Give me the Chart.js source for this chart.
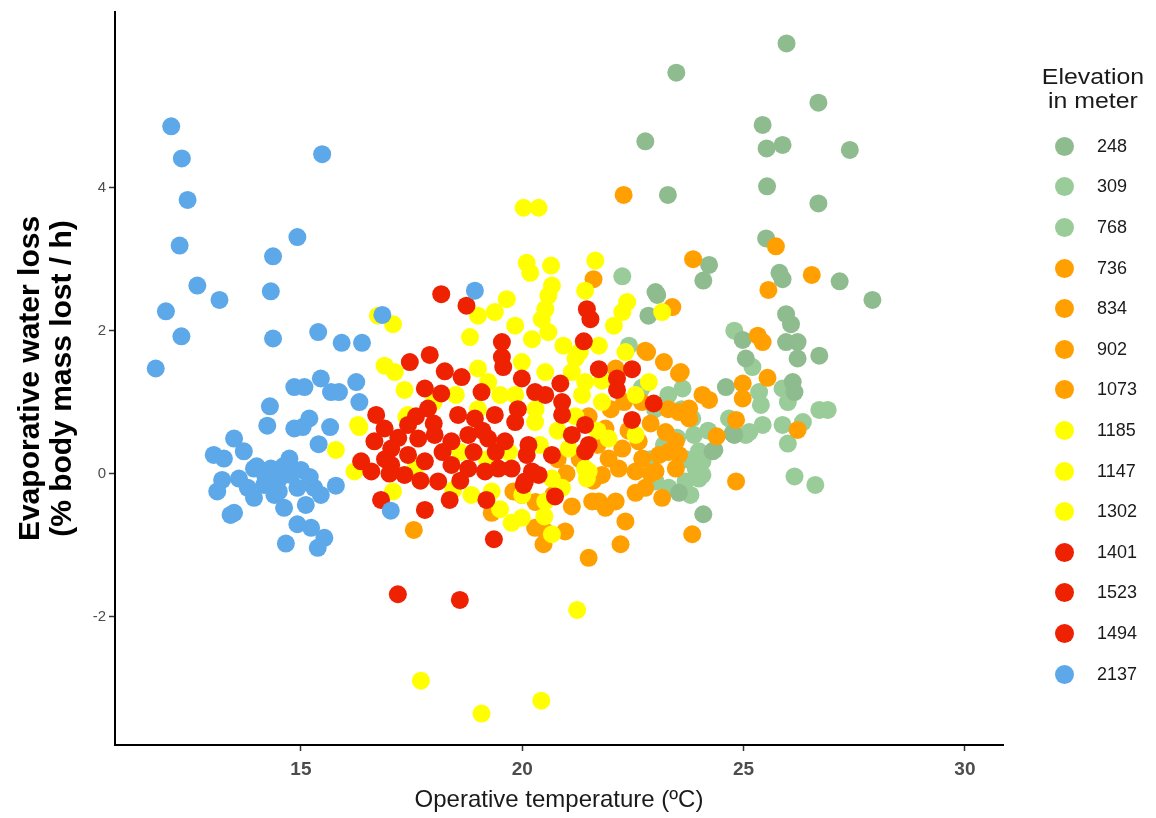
<!DOCTYPE html>
<html>
<head>
<meta charset="utf-8">
<script src="https://cdn.jsdelivr.net/npm/chart.js@4"></script>
<style>
  body { margin: 0; background: #fff; font-family: "Liberation Sans", Arial, sans-serif; }
  #wrap { position: relative; width: 1156px; height: 818px; }
  #legend { position: absolute; left: 1030px; top: 65px; width: 126px; color: #1a1a1a; }
  .ltitle { font-size: 22px; line-height: 24px; text-align: center; transform: scaleX(1.13); }
  #items { margin-top: 13px; }
  .item { display: flex; align-items: center; height: 40.6px; }
  .dot { width: 19px; height: 19px; border-radius: 50%; margin-left: 25px; }
  .lab { margin-left: 23px; font-size: 18px; }
</style>
</head>
<body>
<div id="wrap">
  <canvas id="chart" width="1156" height="818"></canvas>
  <div id="legend">
    <div class="ltitle">Elevation<br>in meter</div>
    <div id="items"></div>
  </div>
</div>
<script>
// --- Data: [temperature, water loss] per elevation group ---
const elevations = ['248', '309', '768', '736', '834', '902', '1073', '1185', '1147', '1302', '1401', '1523', '1494', '2137'];
const colors = ['#8fbc8f', '#99cc99', '#99cc99', '#ffa000', '#ffa000', '#ffa000', '#ffa000',
                '#ffff00', '#ffff00', '#ffff00', '#ee2200', '#ee2200', '#ee2200', '#5ca8e8'];
const xTicks = [15, 20, 25, 30];
const yTicks = [-2, 0, 2, 4];

const e248 = [[25.97,6.02],[23.48,5.61],[26.69,5.19],[25.43,4.88],[25.52,4.55],[25.88,4.60],[27.40,4.53],[22.78,4.65],
  [23.29,3.90],[25.53,4.02],[26.69,3.78],[25.51,3.29],[24.22,2.92],[24.09,2.70],[25.81,2.81],[25.88,2.72],[27.17,2.69],
  [27.91,2.43],[23.05,2.50],[22.85,2.21],[25.96,2.23],[26.07,2.09],[25.96,1.84],[26.22,1.84],[26.22,1.61],[26.71,1.65],
  [25.05,1.61],[24.98,1.87],[24.60,1.21],[26.11,1.28],[26.15,1.14],[24.75,0.56],[24.34,0.33],[23.54,-0.27],[24.09,-0.57],
  [24.79,0.54],[24.30,0.31],[23.01,2.54]];
const e309 = [[22.26,2.76],[24.79,2.00],[25.20,1.49],[23.62,1.19],[25.35,1.14],[25.39,0.96],[25.88,1.19],[26.00,1.00],
  [26.71,0.89],[26.90,0.89],[25.43,0.68],[25.05,0.54],[25.88,0.68],[26.34,0.72],[26.00,0.42],[26.15,-0.04],[26.62,-0.16],
  [24.67,0.77],[25.13,0.58]];
const e768 = [[23.88,0.54],[23.99,0.31],[23.92,0.07],[23.99,-0.07],[23.69,-0.11],[23.84,0.77],[22.41,1.79],[23.01,-0.11],
  [23.31,-0.20],[24.07,0.17],[24.07,-0.02],[22.7,1.2],[23.0,0.9],[23.3,1.1],[22.9,0.2],[23.5,0.5],[23.7,0.2],[23.6,0.9],
  [23.2,0.4],[24.2,0.6],[23.8,-0.3]];
const e736 = [[22.29,3.90],[25.73,3.18],[23.86,3.00],[26.54,2.78],[25.56,2.57],[23.39,2.33],[25.32,1.93],[25.43,1.84],
  [25.54,1.34],[24.98,1.26],[24.98,1.05],[24.07,1.10],[24.22,1.03],[24.83,0.75],[24.39,0.52],[26.22,0.61],[24.83,-0.11],
  [23.84,-0.85]];
const e834 = [[23.20,1.56],[23.58,1.42],[22.82,1.70],[21.61,2.72],[22.11,1.47],[22.78,1.72],[23.54,1.40],[23.77,0.91],
  [23.54,0.86],[23.77,0.77],[23.24,0.58],[23.47,0.45],[23.54,0.26],[23.47,0.07],[23.09,0.26],[23.01,0.03],[23.16,-0.34],
  [22.33,-0.67]];
const e902 = [[22.63,0.45],[22.71,0.21],[22.56,0.03],[22.26,0.35],[22.18,0.07],[21.88,0.63],[21.95,0.21],[21.80,-0.02],
  [22.56,-0.27],[22.11,-0.39],[21.58,-0.39],[22.78,-0.20],[21.7,0.4],[22.0,0.9],[22.4,0.6],[22.9,0.7],[23.3,0.9],
  [22.3,1.0],[22.7,1.0],[22.9,0.0],[23.3,0.3],[22.22,-0.99]];
const e1073 = [[21.12,-0.46],[21.50,-1.18],[20.97,-0.81],[21.73,-0.39],[20.52,-0.81],[20.29,-0.76],[19.99,-0.30],
  [17.55,-0.79],[19.31,-0.55],[20.48,-0.99],[21.88,-0.48],[21.5,0.8],[21.3,0.2],[21.0,0.0],[20.7,-0.3],[20.3,-0.4],
  [21.6,-0.1],[20.8,0.2],[19.80,-0.25]];
const e1185 = [[20.03,3.72],[20.37,3.72],[20.10,2.95],[20.18,2.81],[20.65,2.91],[21.65,2.98],[21.42,2.56],[20.67,2.63],
  [20.59,2.49],[20.52,2.30],[20.44,2.16],[22.37,2.40],[22.26,2.26],[22.07,2.07],[23.16,2.26],[19.65,2.44],[19.84,2.07],
  [20.22,1.88],[20.59,1.98],[20.93,1.79],[21.73,1.79],[22.33,1.70],[21.20,1.61],[21.3,1.7],[21.8,1.3],[21.24,-1.91],
  [20.43,-3.18]];
const e1147 = [[19.99,1.56],[20.52,1.42],[21.12,1.42],[21.42,1.28],[22.86,1.28],[22.56,1.10],[21.80,1.00],[21.35,1.10],
  [21.95,0.49],[22.56,0.54],[19.84,1.10],[20.29,0.72],[21.05,0.35],[21.42,0.07],[21.46,-0.07],[20.67,-0.07],[20.52,-0.39],
  [19.99,-0.62],[19.76,-0.69],[20.67,-0.85],[21.50,0.03],[20.3,0.9],[20.8,0.6],[20.4,0.4],[20.9,-0.2],[21.2,0.8],
  [21.7,0.6],[20.0,-0.3],[20.5,-0.6],[19.08,-3.36]];
const e1302 = [[18.85,-0.30],[19.31,-0.25],[17.08,-0.25],[18.44,-0.23],[19.38,2.26],[19.00,2.21],[18.82,1.91],[17.08,2.09],
  [16.74,2.21],[16.89,1.51],[17.12,1.42],[17.34,1.17],[16.29,0.68],[16.21,0.03],[19.00,1.47],[19.23,1.28],[17.42,0.82],
  [15.79,0.33],[16.32,0.65],[17.38,0.79],[18.0,1.0],[18.5,1.1],[19.0,0.9],[19.5,1.1],[19.2,0.2],[19.7,0.3],[18.6,0.3],
  [17.6,0.1],[19.5,-0.5],[17.71,-2.90]];
const e1401 = [[18.17,2.51],[18.74,2.35],[17.46,1.56],[17.91,1.66],[18.25,1.43],[18.63,1.35],[17.80,1.19],[18.17,1.12],
  [16.70,0.82],[16.89,0.63],[17.42,0.68],[17.87,0.91],[16.66,0.45],[17.04,0.35],[17.65,0.49],[18.02,0.54],[16.36,0.17],
  [16.59,0.03],[17.04,0.12],[17.42,0.26],[17.34,-0.02],[17.80,0.17],[16.81,-0.37],[17.80,-0.51],[17.19,-1.69],[17.2,0.5],
  [17.6,0.8],[17.0,0.0],[17.7,-0.1],[16.9,0.2],[18.0,0.7]];
const e1523 = [[19.54,1.84],[19.54,1.63],[19.57,1.49],[19.08,1.14],[18.55,0.82],[18.93,0.77],[19.38,0.82],[18.40,0.45],
  [18.78,0.54],[19.23,0.49],[19.61,0.45],[18.10,-0.11],[18.40,0.12],[18.78,0.07],[19.16,0.03],[19.46,0.07],[18.36,-0.37],
  [19.19,-0.37],[19.36,-0.92],[18.59,-1.77],[18.2,0.3],[18.9,0.3],[19.4,0.3],[18.6,-0.1],[19.1,0.6]];
const e1494 = [[19.99,1.33],[20.29,1.14],[19.84,0.72],[20.14,0.40],[19.76,0.07],[20.03,-0.16],[21.46,2.30],[21.54,2.16],
  [21.39,1.85],[21.73,1.46],[22.14,1.33],[22.14,1.17],[22.48,1.46],[22.97,0.98],[22.48,0.75],[20.86,1.26],[20.52,1.10],
  [20.90,1.00],[20.90,0.82],[21.42,0.68],[21.50,0.40],[21.42,0.31],[21.12,0.54],[20.67,0.26],[20.22,0.03],[20.06,-0.11],
  [20.37,-0.02],[20.74,-0.32],[20.10,0.26],[19.9,0.9]];
const e2137 = [[12.07,4.86],[12.31,4.41],[12.44,3.83],[12.26,3.19],[12.66,2.63],[13.16,2.43],[11.95,2.27],[12.30,1.92],
  [11.72,1.47],[15.48,4.47],[14.92,3.31],[14.37,3.04],[14.32,2.55],[14.37,1.89],[15.39,1.98],[15.92,1.83],[16.38,1.83],
  [16.84,2.22],[18.93,2.56],[14.85,1.21],[15.08,1.21],[15.45,1.33],[15.68,1.14],[15.86,1.14],[16.25,1.28],[16.32,1.00],
  [14.30,0.94],[14.24,0.67],[14.85,0.63],[15.19,0.77],[15.04,0.65],[15.66,0.65],[15.40,0.41],[13.49,0.49],[13.03,0.26],
  [13.26,0.21],[13.71,0.31],[13.22,-0.09],[13.11,-0.25],[13.60,-0.07],[13.94,0.07],[14.32,0.07],[14.74,0.21],[14.77,-0.02],
  [14.51,-0.07],[14.17,-0.16],[13.94,-0.34],[14.40,-0.30],[14.62,-0.48],[14.92,-0.20],[15.11,-0.44],[15.30,-0.20],
  [15.45,-0.30],[15.79,-0.17],[13.49,-0.55],[13.41,-0.58],[14.92,-0.71],[15.23,-0.76],[15.53,-0.90],[14.66,-0.98],
  [15.38,-1.04],[17.03,-0.52],[14.0,0.1],[14.5,-0.25],[14.2,-0.05],[13.8,-0.2],[15.0,0.05],[14.6,0.1],[15.2,-0.05]];

const pointSets = [e248, e309, e768, e736, e834, e902, e1073, e1185, e1147, e1302, e1401, e1523, e1494, e2137];
// lower order is painted on top: blue, then red, yellow, orange, green
const drawOrder = [4, 4, 4, 3, 3, 3, 3, 2, 2, 2, 1, 1, 1, 0];

// --- Legend (HTML) ---
const items = document.getElementById('items');
elevations.forEach((el, i) => {
    const row = document.createElement('div');
    row.className = 'item';
    row.innerHTML = `<span class="dot" style="background:${colors[i]}"></span><span class="lab">${el}</span>`;
    items.appendChild(row);
});

// --- Chart ---
const datasets = elevations.map((el, i) => ({
    label: el,
    data: pointSets[i].map(([x, y]) => ({ x, y })),
    backgroundColor: colors[i],
    pointRadius: 9,
    pointHoverRadius: 9,
    borderWidth: 0,
    order: drawOrder[i]
}));

new Chart(document.getElementById('chart').getContext('2d'), {
    type: 'scatter',
    data: { datasets },
    options: {
        responsive: false,
        animation: false,
        layout: { padding: { top: 8, right: 153, left: 0, bottom: 0 } },
        plugins: { legend: { display: false }, tooltip: { enabled: false } },
        scales: {
            x: {
                type: 'linear',
                min: 10.8,
                max: 30.86,
                afterBuildTicks: s => { s.ticks = xTicks.map(v => ({ value: v })); },
                afterFit: s => { s.height = 73; },
                grid: { drawOnChartArea: false, tickLength: 6, tickWidth: 1.5, tickColor: '#333' },
                border: { display: true, color: '#000', width: 2 },
                ticks: { font: { family: 'Liberation Sans', size: 19, weight: 'bold' }, color: '#4d4d4d', padding: 7 },
                title: { display: true, text: 'Operative temperature (ºC)', color: '#1a1a1a',
                         font: { family: 'Liberation Sans', size: 24 }, padding: { top: 0, bottom: 3 } }
            },
            y: {
                min: -3.8,
                max: 6.46,
                afterBuildTicks: s => { s.ticks = yTicks.map(v => ({ value: v })); },
                afterFit: s => { s.width = 115; },
                grid: { drawOnChartArea: false, tickLength: 6, tickWidth: 1.5, tickColor: '#333' },
                border: { display: true, color: '#000', width: 2 },
                ticks: { font: { family: 'Liberation Sans', size: 15 }, color: '#4d4d4d', padding: 3 },
                title: { display: true, text: ['Evaporative water loss', '(% body mass lost / h)'], color: '#000',
                         font: { family: 'Liberation Sans', size: 30, weight: 'bold', lineHeight: 1.05 },
                         padding: { top: 15, bottom: 0 } }
            }
        }
    }
});
</script>
</body>
</html>
